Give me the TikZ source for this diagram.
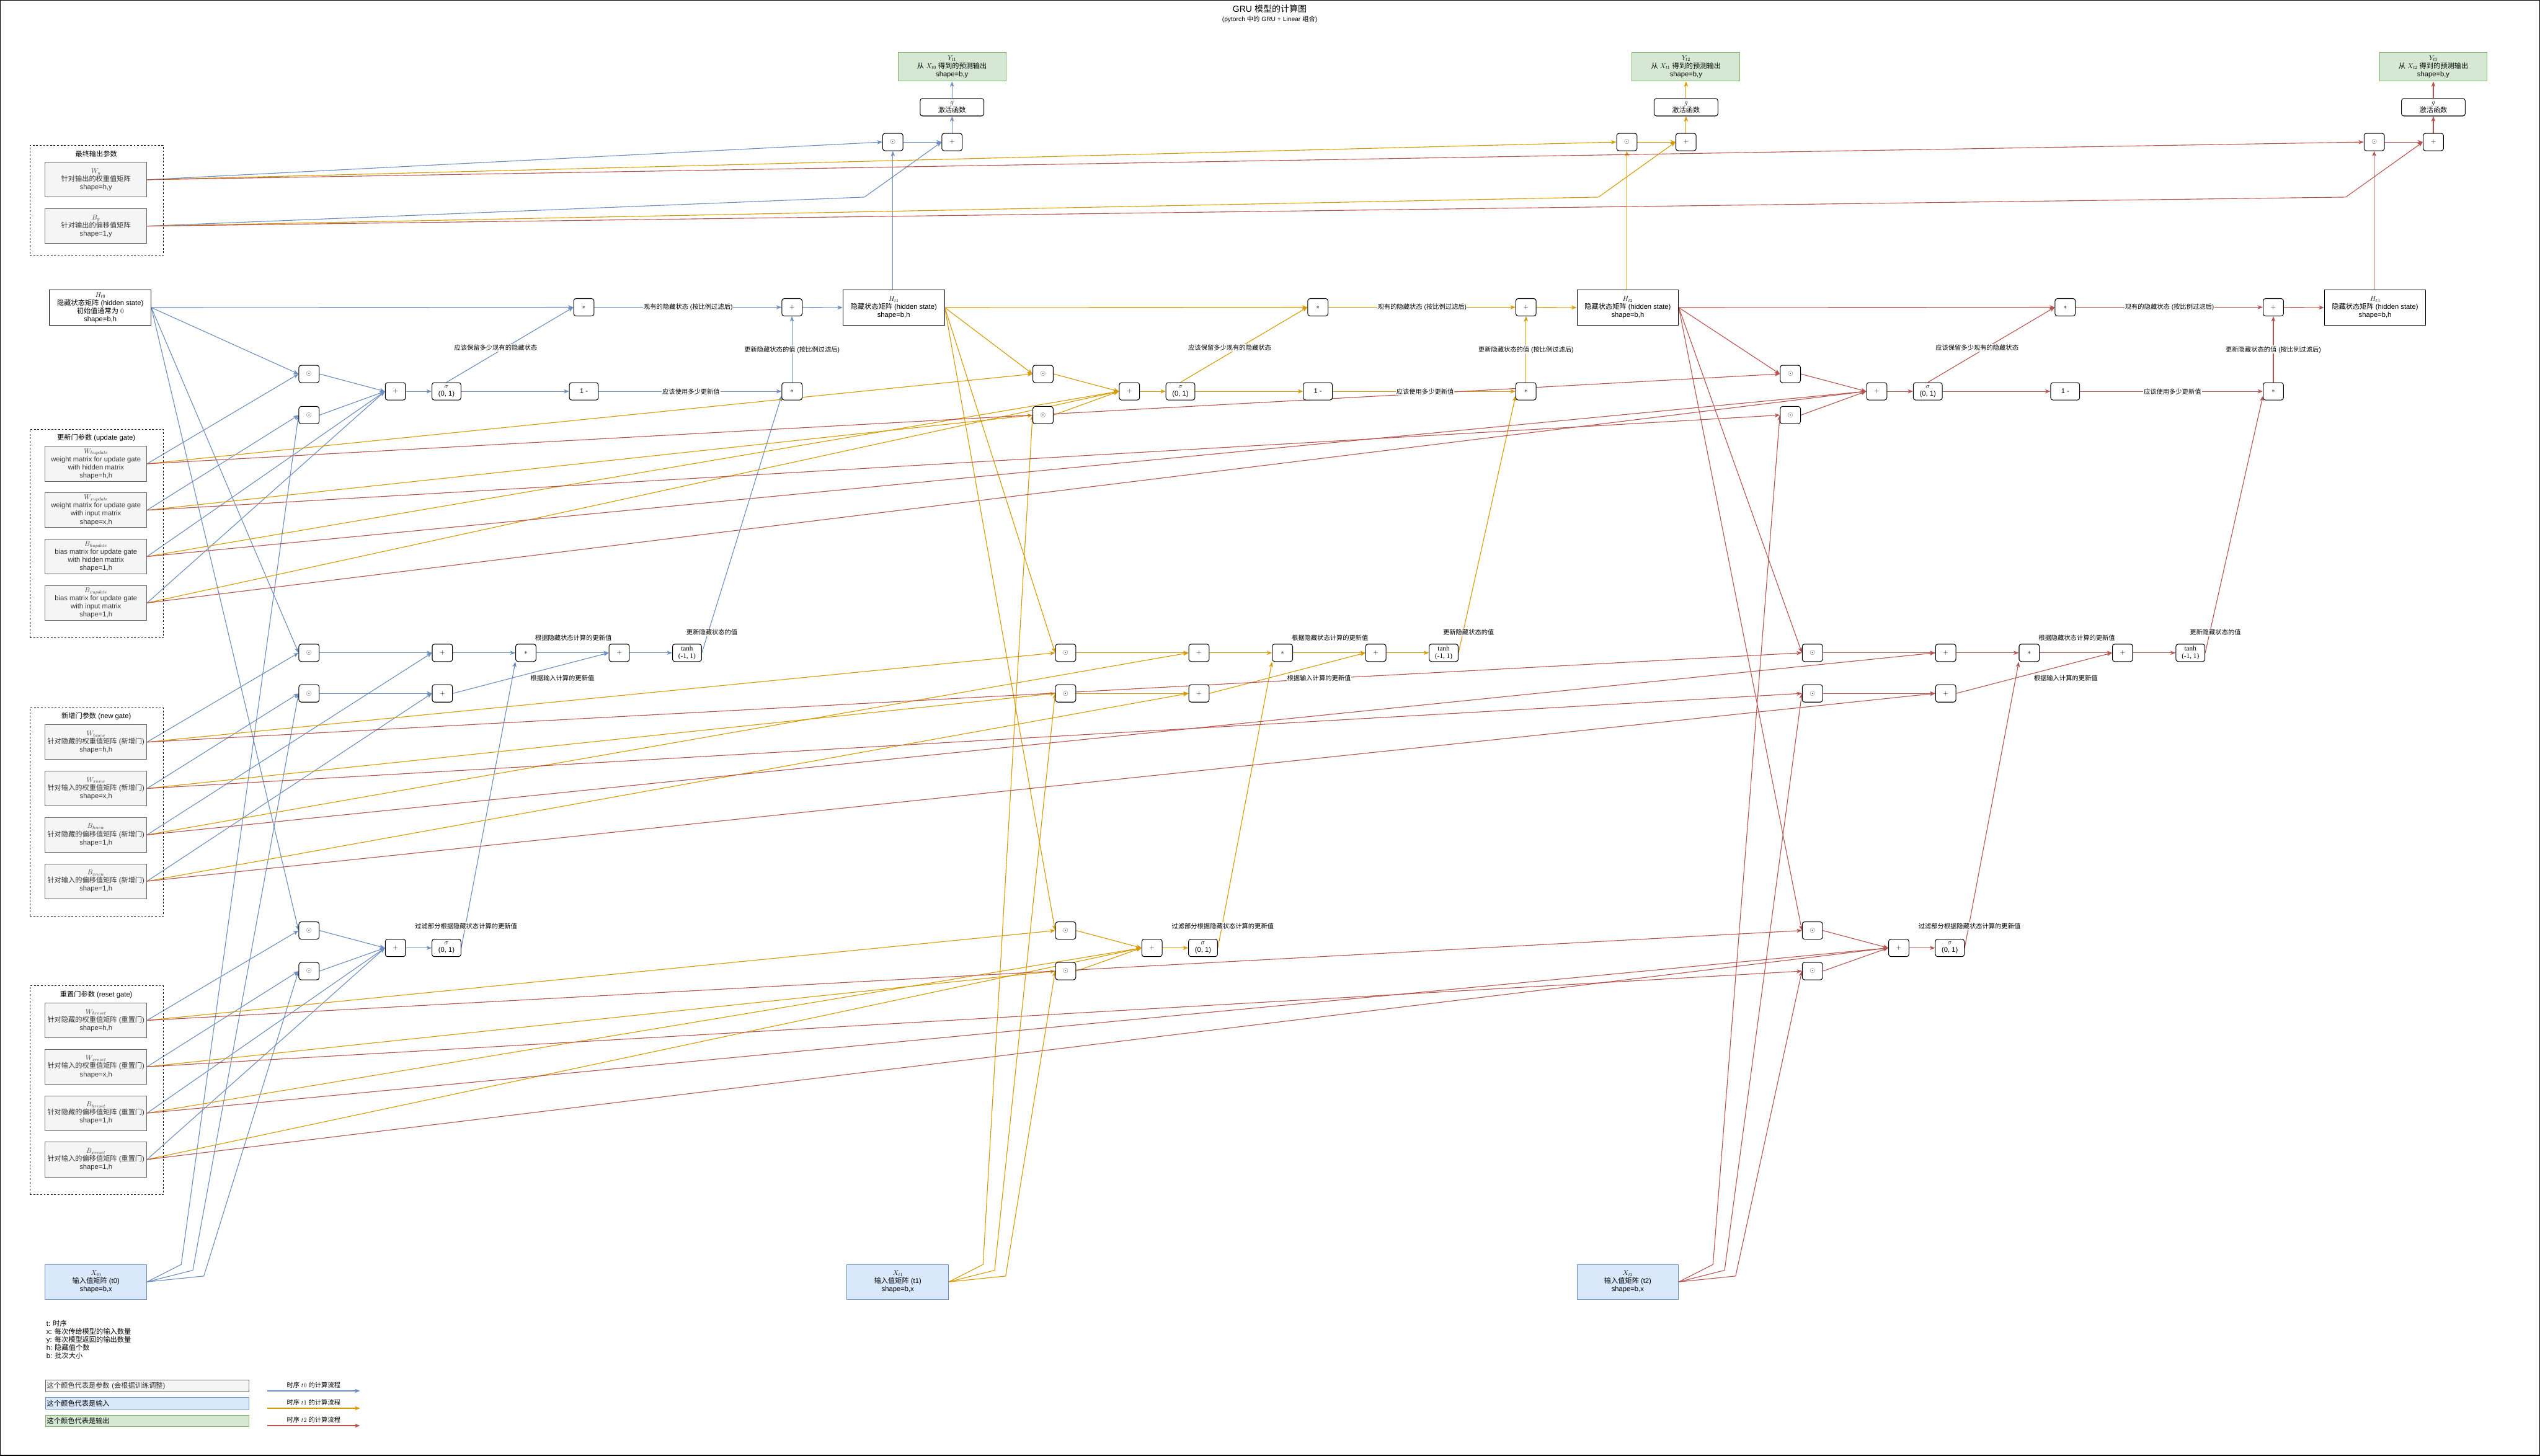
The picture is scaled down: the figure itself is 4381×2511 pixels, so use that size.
\documentclass[tikz,border=0pt]{standalone}
\usepackage{fontspec}
\setmainfont{Liberation Sans}
\newfontfamily\cjkfont{Noto Sans CJK SC}
\newfontfamily\seriffont{Liberation Serif}
\usetikzlibrary{arrows.meta}
\pgfdeclarelayer{edges}
\pgfsetlayers{edges,main}
\XeTeXinterchartokenstate=1
\newXeTeXintercharclass\zhclass
\count255="2E80
\loop\ifnum\count255<"A000 \XeTeXcharclass\count255=\zhclass \advance\count255 by 1 \repeat
\count255="FF00
\loop\ifnum\count255<"FFF0 \XeTeXcharclass\count255=\zhclass \advance\count255 by 1 \repeat
\XeTeXinterchartoks 0 \zhclass = {\begingroup\cjkfont}
\XeTeXinterchartoks 4095 \zhclass = {\begingroup\cjkfont}
\XeTeXinterchartoks \zhclass 0 = {\endgroup}
\XeTeXinterchartoks \zhclass 4095 = {\endgroup}
\definecolor{cB}{HTML}{6C8EBF}
\definecolor{cO}{HTML}{D79B00}
\definecolor{cR}{HTML}{B85450}
\definecolor{pfill}{HTML}{F5F5F5}
\definecolor{pdraw}{HTML}{666666}
\definecolor{xfill}{HTML}{DAE8FC}
\definecolor{yfill}{HTML}{D5E8D4}
\definecolor{ydraw}{HTML}{82B366}
\tikzset{
 every node/.style={font=\fontsize{12}{14}\selectfont},
 op/.style={draw, rounded corners=4pt, minimum width=35pt, minimum height=30pt, inner sep=0pt, fill=white, line width=1.1pt},
 sg/.style={op, minimum width=50pt, align=center, font=\fontsize{12}{13}\selectfont},
 gbox/.style={op, minimum width=110pt, align=center},
 pbox/.style={draw=pdraw, fill=pfill, text=black!80, minimum width=175pt, minimum height=60pt, align=center, inner sep=1pt, line width=1pt},
 hbox/.style={draw, fill=white, minimum width=175pt, minimum height=60pt, align=center, inner sep=0pt, line width=1.1pt},
 xbox/.style={draw=cB, fill=xfill, minimum width=175pt, minimum height=60pt, align=center, inner sep=0pt, line width=1.1pt},
 ybox/.style={draw=ydraw, fill=yfill, minimum width=186pt, minimum height=50pt, align=center, inner sep=0pt, line width=1.1pt},
 grp/.style={draw, dashed, line width=1pt, minimum width=230pt, anchor=north west, inner sep=0pt},
 lab/.style={fill=white, inner sep=1pt, font=\fontsize{11}{13}\selectfont},
 e/.style={draw=#1, line width=1.2pt, -{Stealth[length=9pt,width=7pt,inset=2.5pt]}},
 lgbox/.style={text width=346pt, align=left, minimum height=19.5pt, inner sep=2pt, line width=1pt},
}
\newcommand\gstep[8]{%
\begin{scope}[xshift=#3pt]
 \node[op] (#1u1) at (533,645) {$\odot$};
 \node[op] (#1u2) at (533,716) {$\odot$};
 \node[op] (#1up) at (682,675) {$+$};
 \node[sg] (#1us) at (770,675) {$\sigma$\\(0, 1)};
 \node[sg] (#1um) at (1007,675) {1 -};
 \node[op] (#1ux) at (1366,675) {$*$};
 \node[op] (#1hx) at (1007,530) {$*$};
 \node[op] (#1hp) at (1366,530) {$+$};
 \node[op] (#1o1) at (1540,245) {$\odot$};
 \node[op] (#1o2) at (1642,245) {$+$};
 \node[gbox] (#1g) at (1642,185) {$g$\\激活函数};
 \coordinate (#1ob) at (1491,340);
 \node[lab] (#1lA) at (855,600) {应该保留多少现有的隐藏状态};
 \node[lab] (#1lB) at (1192,675) {应该使用多少更新值};
 \node[lab] (#1lC) at (1366,603) {更新隐藏状态的值 (按比例过滤后)};
 \node[lab] (#1lD) at (1187,530) {现有的隐藏状态 (按比例过滤后)};
\end{scope}
\begin{scope}[xshift=#4pt]
 \node[op] (#1n1) at (533,1126) {$\odot$};
 \node[op] (#1n2) at (533,1196) {$\odot$};
 \node[op] (#1np) at (763,1126) {$+$};
 \node[op] (#1nq) at (763,1196) {$+$};
 \node[op] (#1nx) at (907,1126) {$*$};
 \node[op] (#1nr) at (1068,1126) {$+$};
 \node[sg, font=\seriffont\fontsize{12}{13}\selectfont] (#1tn) at (1185,1126) {tanh\\(-1, 1)};
 \node[op] (#1r1) at (533,1605) {$\odot$};
 \node[op] (#1r2) at (533,1675) {$\odot$};
 \node[op] (#1rp) at (682,1635) {$+$};
 \node[sg] (#1rs) at (770,1635) {$\sigma$\\(0, 1)};
 \node[lab] (#1lE) at (1228,1091) {更新隐藏状态的值};
 \node[lab] (#1lF) at (989,1100) {根据隐藏状态计算的更新值};
 \node[lab] (#1lG) at (970,1170) {根据输入计算的更新值};
 \node[lab] (#1lH) at (804,1597) {过滤部分根据隐藏状态计算的更新值};
\end{scope}
\begin{pgfonlayer}{edges}
 \draw[e=#2] (#5.east) -- (#1hx.west);
 \draw[e=#2] (#5.east) -- (#1u1.west);
 \draw[e=#2] (#5.east) -- (#1n1.west);
 \draw[e=#2] (#5.east) -- (#1r1.west);
 \draw[e=#2] (#7.east) -- ++(59,-30) -- (#1u2.west);
 \draw[e=#2] (#7.east) -- ++(79,-20) -- (#1n2.west);
 \draw[e=#2] (#7.east) -- ++(98,-10) -- (#1r2.west);
 \draw[e=#2] (Wy.east) -- (#1o1.west);
 \draw[e=#2] (By.east) -- (#1ob) -- (#1o2.west);
 \draw[e=#2] (Whu.east) -- (#1u1.west);
 \draw[e=#2] (Wxu.east) -- (#1u2.west);
 \draw[e=#2] (Bhu.east) -- (#1up.west);
 \draw[e=#2] (Bxu.east) -- (#1up.west);
 \draw[e=#2] (Whn.east) -- (#1n1.west);
 \draw[e=#2] (Wxn.east) -- (#1n2.west);
 \draw[e=#2] (Bhn.east) -- (#1np.west);
 \draw[e=#2] (Bxn.east) -- (#1nq.west);
 \draw[e=#2] (Whr.east) -- (#1r1.west);
 \draw[e=#2] (Wxr.east) -- (#1r2.west);
 \draw[e=#2] (Bhr.east) -- (#1rp.west);
 \draw[e=#2] (Bxr.east) -- (#1rp.west);
 \draw[e=#2] (#1u1.east) -- (#1up.west);
 \draw[e=#2] (#1u2.east) -- (#1up.west);
 \draw[e=#2] (#1up) -- (#1us);
 \draw[e=#2] (#1us) -- (#1um);
 \draw[e=#2] (#1us.north) -- (#1hx.west);
 \draw[e=#2] (#1um) -- (#1ux);
 \draw[e=#2] (#1ux) -- (#1hp);
 \draw[e=#2] (#1hx) -- (#1hp);
 \draw[e=#2] (#1hp) -- (#6.west);
 \draw[e=#2] (#1tn.east) -- ([yshift=-8pt]#1ux.west);
 \draw[e=#2] (#1n1) -- (#1np);
 \draw[e=#2] (#1n2) -- (#1nq);
 \draw[e=#2] (#1np) -- (#1nx);
 \draw[e=#2] (#1nx) -- (#1nr);
 \draw[e=#2] (#1nq.east) -- (#1nr.west);
 \draw[e=#2] (#1nr) -- (#1tn);
 \draw[e=#2] (#1rs.east) -- (#1nx.south west);
 \draw[e=#2] (#1r1.east) -- (#1rp.west);
 \draw[e=#2] (#1r2.east) -- (#1rp.west);
 \draw[e=#2] (#1rp) -- (#1rs);
 \draw[e=#2] (#1o1 |- #6.north) -- (#1o1);
 \draw[e=#2] (#1o1) -- (#1o2);
 \draw[e=#2] (#1o2) -- (#1g);
 \draw[e=#2] (#1g) -- (#8);
\end{pgfonlayer}
}
\begin{document}
\begin{tikzpicture}[x=1pt,y=-1pt]
\useasboundingbox (0,0) rectangle (4381,2511);
\draw[line width=1.5pt] (0.75,0.75) rectangle (4380.25,2510.25);
\node[font=\fontsize{15}{18}\selectfont] (title) at (2190,15) {GRU 模型的计算图};
\node[font=\fontsize{11}{13}\selectfont] (subtitle) at (2190,33) {(pytorch 中的 GRU + Linear 组合)};
% groups
\node[grp, minimum height=190pt] (gO) at (51,250) {};
\node (gOt) at (166,265) {最终输出参数};
\node[grp, minimum height=360pt] (gU) at (51,740) {};
\node (gUt) at (166,755) {更新门参数 (update gate)};
\node[grp, minimum height=360pt] (gN) at (51,1220) {};
\node (gNt) at (166,1235) {新增门参数 (new gate)};
\node[grp, minimum height=360pt] (gR) at (51,1700) {};
\node (gRt) at (166,1715) {重置门参数 (reset gate)};
% parameter boxes
\node[pbox] (Wy) at (165.5,310) {$W_y$\\针对输出的权重值矩阵\\shape=h,y};
\node[pbox] (By) at (165.5,390) {$B_y$\\针对输出的偏移值矩阵\\shape=1,y};
\node[pbox] (Whu) at (165.5,800) {$W_{hupdate}$\\weight matrix for update gate\\with hidden matrix\\shape=h,h};
\node[pbox] (Wxu) at (165.5,880) {$W_{xupdate}$\\weight matrix for update gate\\with input matrix\\shape=x,h};
\node[pbox] (Bhu) at (165.5,960) {$B_{hupdate}$\\bias matrix for update gate\\with hidden matrix\\shape=1,h};
\node[pbox] (Bxu) at (165.5,1040) {$B_{xupdate}$\\bias matrix for update gate\\with input matrix\\shape=1,h};
\node[pbox] (Whn) at (165.5,1280) {$W_{hnew}$\\针对隐藏的权重值矩阵 (新增门)\\shape=h,h};
\node[pbox] (Wxn) at (165.5,1360) {$W_{xnew}$\\针对输入的权重值矩阵 (新增门)\\shape=x,h};
\node[pbox] (Bhn) at (165.5,1440) {$B_{hnew}$\\针对隐藏的偏移值矩阵 (新增门)\\shape=1,h};
\node[pbox] (Bxn) at (165.5,1520) {$B_{xnew}$\\针对输入的偏移值矩阵 (新增门)\\shape=1,h};
\node[pbox] (Whr) at (165.5,1760) {$W_{hreset}$\\针对隐藏的权重值矩阵 (重置门)\\shape=h,h};
\node[pbox] (Wxr) at (165.5,1840) {$W_{xreset}$\\针对输入的权重值矩阵 (重置门)\\shape=x,h};
\node[pbox] (Bhr) at (165.5,1920) {$B_{hreset}$\\针对隐藏的偏移值矩阵 (重置门)\\shape=1,h};
\node[pbox] (Bxr) at (165.5,2000) {$B_{xreset}$\\针对输入的偏移值矩阵 (重置门)\\shape=1,h};
% hidden states
\node[hbox] (H0) at (173,530.5) {$H_{t0}$\\隐藏状态矩阵 (hidden state)\\初始值通常为 $0$\\shape=b,h};
\node[hbox] (H1) at (1541.5,530.5) {$H_{t1}$\\隐藏状态矩阵 (hidden state)\\shape=b,h};
\node[hbox] (H2) at (2807.5,530.5) {$H_{t2}$\\隐藏状态矩阵 (hidden state)\\shape=b,h};
\node[hbox] (H3) at (4096.5,530.5) {$H_{t3}$\\隐藏状态矩阵 (hidden state)\\shape=b,h};
% inputs
\node[xbox] (X0) at (165.5,2211) {$X_{t0}$\\输入值矩阵 (t0)\\shape=b,x};
\node[xbox] (X1) at (1548.5,2211) {$X_{t1}$\\输入值矩阵 (t1)\\shape=b,x};
\node[xbox] (X2) at (2807.5,2211) {$X_{t2}$\\输入值矩阵 (t2)\\shape=b,x};
% outputs
\node[ybox] (Y1) at (1642,115) {$Y_{t1}$\\从 $X_{t0}$ 得到的预测输出\\shape=b,y};
\node[ybox] (Y2) at (2908,115) {$Y_{t2}$\\从 $X_{t1}$ 得到的预测输出\\shape=b,y};
\node[ybox] (Y3) at (4197,115) {$Y_{t3}$\\从 $X_{t2}$ 得到的预测输出\\shape=b,y};
% time steps
\gstep{a}{cB}{0}{0}{H0}{H1}{X0}{Y1}
\gstep{b}{cO}{1266}{1305}{H1}{H2}{X1}{Y2}
\gstep{c}{cR}{2555}{2593}{H2}{H3}{X2}{Y3}
% legend
\node[anchor=north west, align=left, inner sep=0pt] (notes) at (80,2277) {t: 时序\\x: 每次传给模型的输入数量\\y: 每次模型返回的输出数量\\h: 隐藏值个数\\b: 批次大小};
\node[lgbox, draw=pdraw, fill=pfill, text=black!80] (L1) at (254,2390.5) {这个颜色代表是参数 (会根据训练调整)};
\node[lgbox, draw=cB, fill=xfill] (L2) at (254,2420.5) {这个颜色代表是输入};
\node[lgbox, draw=ydraw, fill=yfill] (L3) at (254,2450.5) {这个颜色代表是输出};
\coordinate (la1) at (461,2399); \coordinate (lb1) at (621,2399);
\coordinate (la2) at (461,2429); \coordinate (lb2) at (621,2429);
\coordinate (la3) at (461,2459); \coordinate (lb3) at (621,2459);
\draw[e=cB, line width=2pt] (la1) -- (lb1) node[midway, above=1pt, font=\fontsize{11}{13}\selectfont] (lt1) {时序 $t0$ 的计算流程};
\draw[e=cO, line width=2pt] (la2) -- (lb2) node[midway, above=1pt, font=\fontsize{11}{13}\selectfont] (lt2) {时序 $t1$ 的计算流程};
\draw[e=cR, line width=2pt] (la3) -- (lb3) node[midway, above=1pt, font=\fontsize{11}{13}\selectfont] (lt3) {时序 $t2$ 的计算流程};
\end{tikzpicture}
\end{document}
